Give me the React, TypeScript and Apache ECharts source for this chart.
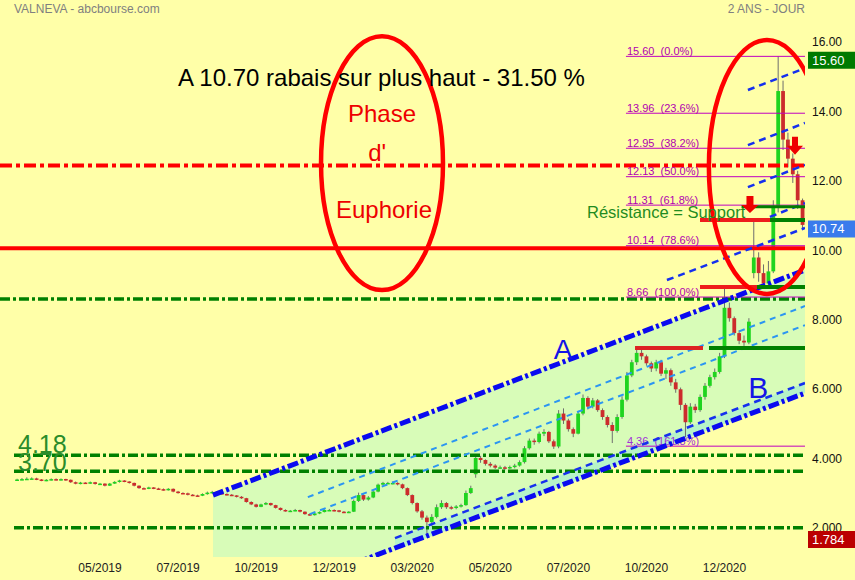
import React, { useEffect, useRef } from "react";
import * as echarts from "echarts";

const FONT = '"Liberation Sans", Arial, Helvetica, sans-serif';

// ---- axes ----
const xMin = -0.5;
const xMax = 164.5; // one slot ~ 3 trading days
const xTickIndex = [20, 36, 52, 68, 84, 100, 116, 132, 148];
const xTickLabels = ["05/2019", "07/2019", "10/2019", "12/2019", "03/2020", "05/2020", "07/2020", "10/2020", "12/2020"];
const yMin = 1.164;
const yMax = 17.225;
const yTickValues = [16, 14, 12, 10, 8, 6, 4, 2];
const yTickLabels = ["16.00", "14.00", "12.00", "10.00", "8.000", "6.000", "4.000", "2.000"];

// ---- prices: [open, close, low, high], first slot index below ----
const firstIndex = 3;
const ohlc = [
  [3.38, 3.40, 3.36, 3.42], [3.40, 3.41, 3.38, 3.44], [3.41, 3.42, 3.39, 3.46], [3.42, 3.43, 3.40, 3.46],
  [3.43, 3.40, 3.38, 3.45], [3.40, 3.37, 3.35, 3.41], [3.37, 3.39, 3.35, 3.41], [3.39, 3.41, 3.37, 3.43],
  [3.41, 3.39, 3.37, 3.43], [3.39, 3.41, 3.37, 3.43], [3.41, 3.39, 3.36, 3.42], [3.39, 3.32, 3.30, 3.40],
  [3.32, 3.28, 3.26, 3.34], [3.28, 3.31, 3.26, 3.33], [3.31, 3.29, 3.27, 3.32], [3.29, 3.32, 3.27, 3.34],
  [3.32, 3.27, 3.25, 3.33], [3.27, 3.28, 3.24, 3.30], [3.28, 3.22, 3.20, 3.29], [3.22, 3.28, 3.21, 3.30],
  [3.28, 3.33, 3.27, 3.35], [3.33, 3.37, 3.31, 3.39], [3.37, 3.34, 3.32, 3.38], [3.34, 3.30, 3.28, 3.35],
  [3.30, 3.22, 3.20, 3.31], [3.22, 3.15, 3.13, 3.23], [3.15, 3.14, 3.12, 3.17], [3.14, 3.17, 3.12, 3.19],
  [3.17, 3.14, 3.12, 3.18], [3.14, 3.12, 3.10, 3.16], [3.12, 3.10, 3.08, 3.14], [3.10, 3.13, 3.08, 3.15],
  [3.13, 3.05, 3.03, 3.14], [3.05, 3.01, 2.99, 3.07], [3.01, 3.00, 2.98, 3.03], [3.00, 2.96, 2.94, 3.02],
  [2.96, 2.94, 2.92, 2.98], [2.94, 2.93, 2.91, 2.96], [2.93, 2.98, 2.92, 3.00], [2.98, 3.02, 2.96, 3.05],
  [3.02, 3.04, 3.00, 3.07], [3.04, 3.01, 2.99, 3.06], [3.01, 2.98, 2.96, 3.02], [2.98, 2.96, 2.94, 3.00],
  [2.96, 2.94, 2.92, 2.98], [2.94, 2.90, 2.88, 2.95], [2.90, 2.86, 2.84, 2.92], [2.86, 2.75, 2.73, 2.87],
  [2.75, 2.68, 2.66, 2.77], [2.68, 2.61, 2.59, 2.70], [2.61, 2.68, 2.60, 2.70], [2.68, 2.72, 2.66, 2.75],
  [2.72, 2.66, 2.64, 2.73], [2.66, 2.58, 2.56, 2.67], [2.58, 2.52, 2.50, 2.59], [2.52, 2.49, 2.47, 2.54],
  [2.49, 2.50, 2.46, 2.52], [2.50, 2.52, 2.48, 2.55], [2.52, 2.47, 2.45, 2.53], [2.47, 2.40, 2.38, 2.48],
  [2.40, 2.37, 2.35, 2.42], [2.37, 2.42, 2.36, 2.44], [2.42, 2.46, 2.40, 2.48], [2.46, 2.52, 2.45, 2.54],
  [2.52, 2.52, 2.49, 2.55], [2.52, 2.51, 2.48, 2.54], [2.51, 2.47, 2.45, 2.52], [2.47, 2.45, 2.43, 2.49],
  [2.45, 2.47, 2.43, 2.49], [2.47, 2.78, 2.46, 2.82], [2.78, 2.95, 2.75, 3.02], [2.95, 2.82, 2.78, 2.97],
  [2.82, 2.88, 2.79, 2.92], [2.88, 3.05, 2.86, 3.09], [3.05, 3.25, 3.03, 3.28], [3.25, 3.30, 3.22, 3.33],
  [3.30, 3.30, 3.27, 3.33], [3.30, 3.30, 3.26, 3.34], [3.30, 3.26, 3.23, 3.32], [3.26, 3.15, 3.12, 3.28],
  [3.15, 2.95, 2.92, 3.17], [2.95, 2.72, 2.68, 2.97], [2.72, 2.48, 2.44, 2.74], [2.48, 2.30, 2.24, 2.52],
  [2.30, 2.17, 1.784, 2.36], [2.17, 2.32, 2.05, 2.40], [2.32, 2.60, 2.28, 2.68], [2.60, 2.72, 2.55, 2.80],
  [2.72, 2.60, 2.55, 2.75], [2.60, 2.58, 2.53, 2.64], [2.58, 2.62, 2.54, 2.66], [2.62, 2.66, 2.59, 2.70],
  [2.66, 3.01, 2.64, 3.08], [3.01, 3.15, 2.98, 3.22], [3.55, 4.02, 3.45, 4.10], [4.02, 3.96, 3.88, 4.08],
  [3.96, 3.85, 3.80, 3.98], [3.85, 3.80, 3.75, 3.90], [3.80, 3.74, 3.70, 3.84], [3.74, 3.75, 3.70, 3.80],
  [3.75, 3.73, 3.68, 3.79], [3.73, 3.76, 3.70, 3.80], [3.76, 3.80, 3.72, 3.85], [3.80, 3.90, 3.77, 3.95],
  [3.90, 4.30, 3.86, 4.36], [4.30, 4.52, 4.26, 4.58], [4.52, 4.48, 4.40, 4.58], [4.48, 4.72, 4.44, 4.78],
  [4.72, 4.77, 4.65, 4.85], [4.77, 4.50, 4.45, 4.80], [4.50, 4.35, 4.28, 4.55], [4.35, 5.30, 4.30, 5.40],
  [5.30, 5.10, 5.00, 5.45], [5.10, 4.85, 4.78, 5.15], [4.85, 4.72, 4.62, 4.90], [4.72, 5.30, 4.70, 5.38],
  [5.30, 5.75, 5.25, 5.85], [5.75, 5.50, 5.42, 5.80], [5.50, 5.68, 5.45, 5.75], [5.68, 5.40, 5.35, 5.72],
  [5.40, 5.20, 5.12, 5.45], [5.20, 4.97, 4.90, 5.25], [4.97, 4.80, 4.45, 5.05], [4.80, 5.20, 4.75, 5.28],
  [5.20, 5.70, 5.15, 5.80], [5.70, 6.40, 5.65, 6.50], [6.40, 6.78, 6.35, 6.85], [6.78, 7.05, 6.70, 7.19],
  [7.05, 6.95, 6.85, 7.15], [6.95, 6.75, 6.68, 7.00], [6.75, 6.60, 6.50, 6.80], [6.60, 6.78, 6.52, 6.85],
  [6.78, 6.45, 6.38, 6.85], [6.45, 6.55, 6.30, 6.62], [6.55, 6.20, 6.10, 6.60], [6.20, 6.00, 5.90, 6.30],
  [6.00, 5.55, 5.40, 6.05], [5.55, 5.05, 4.62, 5.60], [5.05, 5.50, 5.00, 5.60], [5.50, 5.40, 5.32, 5.58],
  [5.40, 5.78, 5.35, 5.85], [5.78, 6.10, 5.70, 6.18], [6.10, 6.35, 6.05, 6.42], [6.35, 6.50, 6.28, 6.60],
  [6.50, 6.95, 6.45, 7.05], [6.95, 8.35, 6.90, 8.95], [8.35, 8.05, 7.95, 8.50], [8.05, 7.62, 7.55, 8.10],
  [7.62, 7.40, 7.30, 7.70], [7.40, 7.35, 7.25, 7.55], [7.35, 7.95, 7.30, 8.05], [9.35, 9.80, 9.20, 10.88],
  [9.80, 9.35, 9.10, 9.95], [9.35, 9.05, 8.95, 9.60], [9.05, 9.40, 8.92, 9.70], [9.40, 11.25, 9.35, 11.45],
  [11.25, 14.60, 11.10, 15.60], [14.60, 13.20, 12.90, 14.90], [13.20, 12.65, 12.40, 13.40], [12.65, 12.20, 11.95, 12.80],
  [12.20, 11.45, 11.20, 12.30], [11.45, 10.74, 10.65, 11.50],
];

// ---- Fibonacci retracement ----
const fibLevels = [15.6, 13.96, 12.95, 12.13, 11.31, 10.14, 8.66, 4.36];
const fibPercents = ["0.0%", "23.6%", "38.2%", "50.0%", "61.8%", "78.6%", "100.0%", "161.8%"];
const fibStart = 127.8;

// ---- horizontal levels ----
const redDashLevel = 12.45;
const redSolidLevel = 10.07;
const greenFullLevel = 8.6;
const greenLevels = [4.1, 3.64, 2.01];

// ---- price tags on the right ----
const tagValues = [15.6, 10.74, 1.784];
const tagTexts = ["15.60", "10.74", "1.784"];

// ---- channel (drawn lines, in [slot, price]) ----
const chanA = [[43.16, 2.95], [164.5, 9.44]];
const chanB = [[76.77, 1.164], [164.5, 5.89]];
const chanBInner = [[80.46, 1.71], [164.5, 6.18]];
const chanMid = [
  [[62.6, 2.89], [164.5, 8.4]],
  [[63.0, 2.4], [164.5, 7.85]],
];
const chanUpper = [
  [[152.8, 14.63], [164.5, 15.26]],
  [[152.8, 13.04], [164.5, 13.68]],
  [[152.8, 11.83], [164.5, 12.47]],
  [[157.3, 10.97], [164.5, 11.37]],
  [[136.2, 9.15], [164.5, 10.65]],
];

const C = {
  bg: "#ffffa8",
  fill: "#d8fcb8",
  mint: "#b6f3c8",
  up: "#1fd41f",
  down: "#cc2c2c",
  wick: "#6e6e6e",
  red: "#ff0000",
  green: "#008000",
  blue: "#0a0af0",
  lightBlue: "#2b95f2",
  fib: "#c000c0",
  fibText: "#b000b0",
};

export default function App() {
  const ref = useRef<HTMLDivElement>(null);

  useEffect(() => {
    if (!ref.current) return;
    const chart = echarts.init(ref.current, null, { renderer: "svg" });

    const line = (api: any, a: number[], b: number[], style: any) => {
      const p1 = api.coord(a);
      const p2 = api.coord(b);
      return { type: "line", shape: { x1: p1[0], y1: p1[1], x2: p2[0], y2: p2[1] }, style };
    };
    const text = (api: any, at: number[], str: string, style: any) => {
      const p = api.coord(at);
      return {
        type: "text",
        x: p[0],
        y: p[1],
        style: { text: str, fontFamily: FONT, ...style },
      };
    };

    const renderFills = (_p: any, api: any) => {
      const poly = (pts: number[][], fill: string) => ({
        type: "polygon",
        shape: { points: pts.map((q) => api.coord(q)) },
        style: { fill },
      });
      return {
        type: "group",
        children: [
          poly([chanA[0], chanA[1], chanB[1], chanB[0], [chanA[0][0], yMin]], C.fill),
          poly([chanBInner[0], chanBInner[1], chanB[1], [chanBInner[0][0], 1.36]], C.mint),
        ],
      };
    };

    const renderCandle = (_p: any, api: any) => {
      const x = api.value(0);
      const o = api.value(1);
      const c = api.value(2);
      const l = api.value(3);
      const h = api.value(4);
      const pO = api.coord([x, o]);
      const pC = api.coord([x, c]);
      const pL = api.coord([x, l]);
      const pH = api.coord([x, h]);
      const bw = 3.8;
      const top = Math.min(pO[1], pC[1]);
      const hh = Math.max(Math.abs(pO[1] - pC[1]), 1.5);
      return {
        type: "group",
        children: [
          { type: "line", shape: { x1: pL[0], y1: pL[1], x2: pH[0], y2: pH[1] }, style: { stroke: C.wick, lineWidth: 1 } },
          { type: "rect", shape: { x: pO[0] - bw / 2, y: top, width: bw, height: hh }, style: { fill: c >= o ? C.up : C.down } },
        ],
      };
    };

    const renderAnnotations = (_p: any, api: any) => {
      const ch: any[] = [];
      const dashDotG = [10, 3, 3, 3];
      // full-width levels
      ch.push(line(api, [xMin, redSolidLevel], [xMax, redSolidLevel], { stroke: C.red, lineWidth: 4 }));
      ch.push(line(api, [xMin, redDashLevel], [xMax, redDashLevel], { stroke: C.red, lineWidth: 4, lineDash: [12, 4, 4, 4] }));
      ch.push(line(api, [xMin, greenFullLevel], [xMax, greenFullLevel], { stroke: C.green, lineWidth: 3.5, lineDash: dashDotG }));
      greenLevels.forEach((v) =>
        ch.push(line(api, [2.37, v], [xMax, v], { stroke: C.green, lineWidth: 3.5, lineDash: dashDotG }))
      );
      // fibonacci
      fibLevels.forEach((v, i) => {
        ch.push(line(api, [fibStart, v], [xMax, v], { stroke: C.fib, lineWidth: 1 }));
        ch.push(
          text(api, [128.0, v], `${v.toFixed(2)}  (${fibPercents[i]})`, {
            fill: i === fibLevels.length - 1 ? "#a030d8" : C.fibText,
            fontSize: 11,
            align: "left",
            verticalAlign: "bottom",
          })
        );
      });
      // channel
      ch.push(line(api, chanMid[0][0], chanMid[0][1], { stroke: C.lightBlue, lineWidth: 2, lineDash: [6, 5] }));
      ch.push(line(api, chanMid[1][0], chanMid[1][1], { stroke: C.lightBlue, lineWidth: 2, lineDash: [6, 5] }));
      ch.push(line(api, chanBInner[0], chanBInner[1], { stroke: "#1530ee", lineWidth: 2.5, lineDash: [7, 5] }));
      chanUpper.forEach((s) => ch.push(line(api, s[0], s[1], { stroke: "#1530ee", lineWidth: 2.5, lineDash: [7, 5] })));
      ch.push(line(api, chanA[0], chanA[1], { stroke: C.blue, lineWidth: 5, lineDash: [11, 3, 3, 3] }));
      ch.push(line(api, [65, 0.6], chanB[1], { stroke: C.blue, lineWidth: 5, lineDash: [11, 3, 3, 3] }));
      // resistance / support segments
      ch.push(line(api, [142.98, 10.88], [157.33, 10.88], { stroke: "#ee1c1c", lineWidth: 4 }));
      ch.push(line(api, [157.33, 10.88], [xMax, 10.88], { stroke: C.green, lineWidth: 4 }));
      ch.push(line(api, [151.5, 11.26], [xMax, 11.26], { stroke: C.green, lineWidth: 3 }));
      ch.push(line(api, [142.98, 8.95], [154.66, 8.95], { stroke: "#ee1c1c", lineWidth: 4 }));
      ch.push(line(api, [154.66, 8.95], [xMax, 8.95], { stroke: C.green, lineWidth: 4 }));
      ch.push(line(api, [129.66, 7.19], [143.59, 7.19], { stroke: "#dd2222", lineWidth: 4 }));
      ch.push(line(api, [144.82, 7.19], [xMax, 7.19], { stroke: C.green, lineWidth: 4 }));
      // arrows
      const arrow = (at: number[], sw: number, sh: number, hw: number, hh: number) => {
        const p = api.coord(at);
        return {
          type: "polygon",
          shape: {
            points: [
              [p[0], p[1]],
              [p[0] - hw / 2, p[1] - hh],
              [p[0] - sw / 2, p[1] - hh],
              [p[0] - sw / 2, p[1] - hh - sh],
              [p[0] + sw / 2, p[1] - hh - sh],
              [p[0] + sw / 2, p[1] - hh],
              [p[0] + hw / 2, p[1] - hh],
            ],
          },
          style: { fill: "#ee0000" },
        };
      };
      ch.push(arrow([153.22, 11.08], 7, 9, 17, 8));
      ch.push(arrow([162.45, 12.76], 6, 9, 16, 9));
      // ellipses
      const ell = (at: number[], rx: number, ry: number) => {
        const p = api.coord(at);
        const s = api.size([rx, ry]);
        return {
          type: "ellipse",
          shape: { cx: p[0], cy: p[1], rx: s[0], ry: s[1] },
          style: { fill: "none", stroke: C.red, lineWidth: 4.5 },
        };
      };
      ch.push(ell([77.8, 12.52], 12.5, 3.66));
      ch.push(ell([156.7, 12.41], 11.9, 3.66));
      // texts
      const redT = { fill: "#ee0000", fontSize: 24, align: "center", verticalAlign: "middle" };
      ch.push(text(api, [77.8, 13.94], "Phase", redT));
      ch.push(text(api, [76.8, 12.84], "d'", redT));
      ch.push(text(api, [78.2, 11.17], "Euphorie", redT));
      ch.push(text(api, [114.9, 7.16], "A", { fill: "#1414e6", fontSize: 28, align: "center", verticalAlign: "middle" }));
      ch.push(text(api, [154.9, 6.04], "B", { fill: "#1414e6", fontSize: 30, align: "center", verticalAlign: "middle" }));
      const greenT = { fill: "#2a8c2a", fontSize: 25, align: "left", verticalAlign: "middle" };
      ch.push(text(api, [3.19, 4.42], "4.18", greenT));
      ch.push(text(api, [3.19, 3.9], "3.70", greenT));
      ch.push(
        text(api, [119.82, 11.11], "Résistance = Support", {
          fill: "#1f8c1f",
          fontSize: 16.5,
          align: "left",
          verticalAlign: "middle",
        })
      );
      return { type: "group", children: ch };
    };

    const renderTags = (_p: any, api: any) => {
      const colors = ["#007a00", "#3a7bec", "#bb0000"];
      const ch: any[] = [];
      tagValues.forEach((v, i) => {
        const p = api.coord([xMax, v]);
        const y = p[1] + 4;
        ch.push({ type: "rect", shape: { x: p[0] + 3, y: y - 8.5, width: 47, height: 17 }, style: { fill: colors[i] } });
        ch.push({
          type: "text",
          x: p[0] + 7,
          y,
          style: { text: tagTexts[i], fill: "#ffffff", fontSize: 13, fontFamily: FONT, align: "left", verticalAlign: "middle" },
        });
      });
      return { type: "group", children: ch };
    };

    const option: any = {
      animation: false,
      backgroundColor: C.bg,
      grid: { left: 0, right: 50, top: 0, bottom: 23, containLabel: false, outerBoundsMode: "none" },
      xAxis: {
        type: "value",
        min: xMin,
        max: xMax,
        axisLine: { show: false },
        axisTick: { show: false },
        splitLine: { show: false },
        axisLabel: {
          customValues: xTickIndex,
          formatter: (v: number) => {
            const k = xTickIndex.findIndex((t) => Math.abs(t - v) < 1e-6);
            return k >= 0 ? xTickLabels[k] : "";
          },
          margin: 5,
          color: "#222",
          fontSize: 12,
          fontFamily: FONT,
        },
      },
      yAxis: {
        type: "value",
        position: "right",
        min: yMin,
        max: yMax,
        axisLine: { show: false },
        axisTick: { show: false },
        splitLine: { show: false },
        axisLabel: {
          customValues: yTickValues,
          formatter: (v: number) => {
            const k = yTickValues.findIndex((t) => Math.abs(t - v) < 1e-6);
            return k >= 0 ? yTickLabels[k] : "";
          },
          margin: 7,
          color: "#111",
          fontSize: 12,
          fontFamily: FONT,
        },
      },
      graphic: [
        {
          type: "text",
          x: 14,
          y: 9,
          z: 10,
          style: { text: "VALNEVA - abcbourse.com", fill: "#808080", font: `12px ${FONT}`, verticalAlign: "middle", textVerticalAlign: "middle" },
        },
        {
          type: "text",
          x: 805,
          y: 9,
          z: 10,
          style: { text: "2 ANS - JOUR", fill: "#808080", font: `12px ${FONT}`, align: "right", textAlign: "right", verticalAlign: "middle", textVerticalAlign: "middle" },
        },
        {
          type: "text",
          x: 178,
          y: 77,
          z: 10,
          style: { text: "A 10.70 rabais sur plus haut - 31.50 %", fill: "#000000", font: `24px ${FONT}`, verticalAlign: "middle", textVerticalAlign: "middle" },
        },
      ],
      series: [
        {
          type: "custom",
          name: "canal",
          z: 1,
          clip: true,
          data: [[80, 8]],
          encode: { x: 0, y: 1 },
          renderItem: renderFills,
          silent: true,
        },
        {
          type: "custom",
          name: "VALNEVA",
          z: 2,
          clip: true,
          data: ohlc.map((r, k) => [k + firstIndex, r[0], r[1], r[2], r[3]]),
          encode: { x: 0, y: [1, 2, 3, 4] },
          renderItem: renderCandle,
        },
        {
          type: "custom",
          name: "annotations",
          z: 3,
          clip: true,
          data: [[80, 8]],
          encode: { x: 0, y: 1 },
          renderItem: renderAnnotations,
          silent: true,
        },
        {
          type: "custom",
          name: "tags",
          z: 4,
          clip: false,
          data: [[80, 8]],
          encode: { x: 0, y: 1 },
          renderItem: renderTags,
          silent: true,
        },
      ],
    };

    chart.setOption(option);
    return () => chart.dispose();
  }, []);

  return <div ref={ref} style={{ position: "fixed", left: 0, top: 0, width: 855, height: 580 }} />;
}
